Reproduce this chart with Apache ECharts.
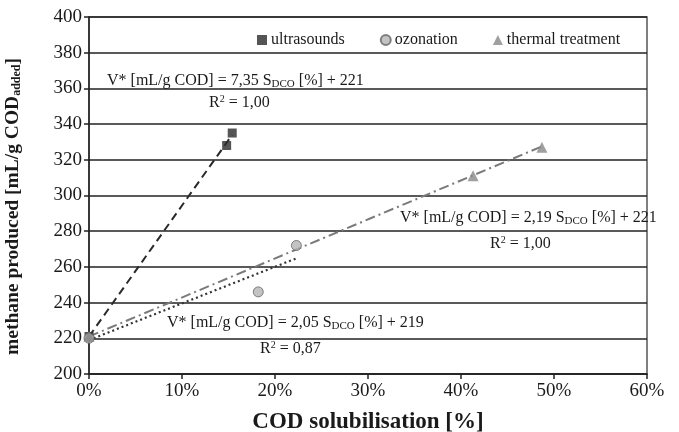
<!DOCTYPE html>
<html>
<head>
<meta charset="utf-8">
<script src="https://cdn.jsdelivr.net/npm/echarts@6/dist/echarts.min.js"></script>
<style>html,body{margin:0;padding:0;background:#fff}#c{width:679px;height:432px}</style>
</head>
<body>
<div id="c"></div>
<script>
// ---- data ----
var xTicks = [0, 10, 20, 30, 40, 50, 60];            // COD solubilisation [%]
var yTicks = [200, 220, 240, 260, 280, 300, 320, 340, 360, 380, 400];
var ultrasoundsX = [0, 14.8, 15.4];
var ultrasoundsY = [221, 328, 335];
var ozonationX = [0, 18.2, 22.3];
var ozonationY = [220, 246, 272];
var thermalX = [0, 41.3, 48.7];
var thermalY = [221, 311, 327];
// trend line end points (x, y)
var trendUltraX = [0, 15.4];
var trendUltraY = [221, 334];
var trendOzoX = [0, 22.4];
var trendOzoY = [219, 265];
var trendThermX = [0, 48.7];
var trendThermY = [221, 327.5];
var eqUltra = ['7,35', '221', '1,00'];
var eqOzo = ['2,05', '219', '0,87'];
var eqTherm = ['2,19', '221', '1,00'];

function pairs(xs, ys) { return xs.map(function (x, i) { return [x, ys[i]]; }); }

var FONT = 'Liberation Serif';
var TXT = '#1a1a1a';
var richT = {
  sub: { fontFamily: FONT, fontSize: 11, color: TXT, padding: [6, 0, 0, 0] },
  sup: { fontFamily: FONT, fontSize: 10, color: TXT, padding: [0, 0, 8, 0] }
};
function eqText(e) { return 'V* [mL/g COD] = ' + e[0] + ' S{sub|DCO} [%] + ' + e[1]; }
function r2Text(e) { return 'R{sup|2} = ' + e[2]; }
function txt(str, left, top) {
  return {
    type: 'text', left: left, top: top, z: 10,
    style: { text: str, fontFamily: FONT, fontSize: 16, fill: TXT, rich: richT }
  };
}

var chart = echarts.init(document.getElementById('c'));
chart.setOption({
  animation: false,
  backgroundColor: '#fff',
  grid: { left: 89, right: 32, top: 17, bottom: 58, show: true, borderColor: '#555', borderWidth: 1.5,
          containLabel: false, outerBoundsMode: 'none' },
  legend: {
    top: 27, left: 252, itemGap: 35, itemWidth: 10, itemHeight: 10,
    textStyle: { fontFamily: FONT, fontSize: 16, color: TXT, padding: [2, 0, 0, -1] },
    data: ['ultrasounds', 'ozonation', 'thermal treatment']
  },
  xAxis: {
    type: 'value', min: xTicks[0], max: xTicks[xTicks.length - 1], interval: 10,
    name: 'COD solubilisation [%]', nameLocation: 'middle', nameGap: 37,
    nameTextStyle: { fontFamily: FONT, fontSize: 23, fontWeight: 'bold', color: TXT },
    axisLine: { lineStyle: { color: '#222', width: 1.5 } },
    axisTick: { show: true, length: 5, lineStyle: { color: '#222', width: 1.5 } },
    axisLabel: { formatter: '{value}%', fontFamily: FONT, fontSize: 19, color: TXT, margin: 8 },
    splitLine: { show: false }
  },
  yAxis: {
    type: 'value', min: yTicks[0], max: yTicks[yTicks.length - 1], interval: 20,
    name: 'methane produced [mL/g COD{sub|added}]', nameLocation: 'middle', nameGap: 66, nameRotate: 90,
    nameTextStyle: {
      fontFamily: FONT, fontSize: 19.5, fontWeight: 'bold', color: TXT, padding: [0, 22, 0, 0],
      rich: { sub: { fontFamily: FONT, fontSize: 12, fontWeight: 'bold', color: TXT, padding: [9, 0, 0, 0] } }
    },
    axisLine: { show: true, lineStyle: { color: '#222', width: 1.5 } },
    axisTick: { show: true, length: 5, lineStyle: { color: '#222', width: 1.5 } },
    axisLabel: { fontFamily: FONT, fontSize: 19, color: TXT, margin: 7 },
    splitLine: { show: true, lineStyle: { color: '#222', width: 1.6 } }
  },
  series: [
    { name: 'trendU', type: 'line', data: pairs(trendUltraX, trendUltraY), symbol: 'none', silent: true,
      lineStyle: { color: '#2a2a2a', width: 2, type: [8, 5] }, z: 3 },
    { name: 'trendO', type: 'line', data: pairs(trendOzoX, trendOzoY), symbol: 'none', silent: true,
      lineStyle: { color: '#333', width: 2.2, type: [2, 3] }, z: 3 },
    { name: 'trendT', type: 'line', data: pairs(trendThermX, trendThermY), symbol: 'none', silent: true,
      lineStyle: { color: '#7a7a7a', width: 2, type: [10, 4, 2, 4] }, z: 3 },
    { name: 'ultrasounds', type: 'scatter', data: pairs(ultrasoundsX, ultrasoundsY), symbol: 'rect', symbolSize: 9,
      itemStyle: { color: '#2b2b2b' }, z: 5 },
    { name: 'ozonation', type: 'scatter', data: pairs(ozonationX, ozonationY), symbol: 'circle', symbolSize: 10,
      itemStyle: { color: '#b4b4b4', borderColor: '#666', borderWidth: 1 }, z: 5 },
    { name: 'thermal treatment', type: 'scatter', data: pairs(thermalX, thermalY), symbol: 'triangle', symbolSize: 11,
      itemStyle: { color: '#888' }, z: 5 }
  ],
  graphic: [
    txt(eqText(eqUltra), 107, 73),
    txt(r2Text(eqUltra), 209, 94),
    txt(eqText(eqTherm), 400, 210),
    txt(r2Text(eqTherm), 490, 235),
    txt(eqText(eqOzo), 167, 315),
    txt(r2Text(eqOzo), 260, 340)
  ]
});
</script>
</body>
</html>
